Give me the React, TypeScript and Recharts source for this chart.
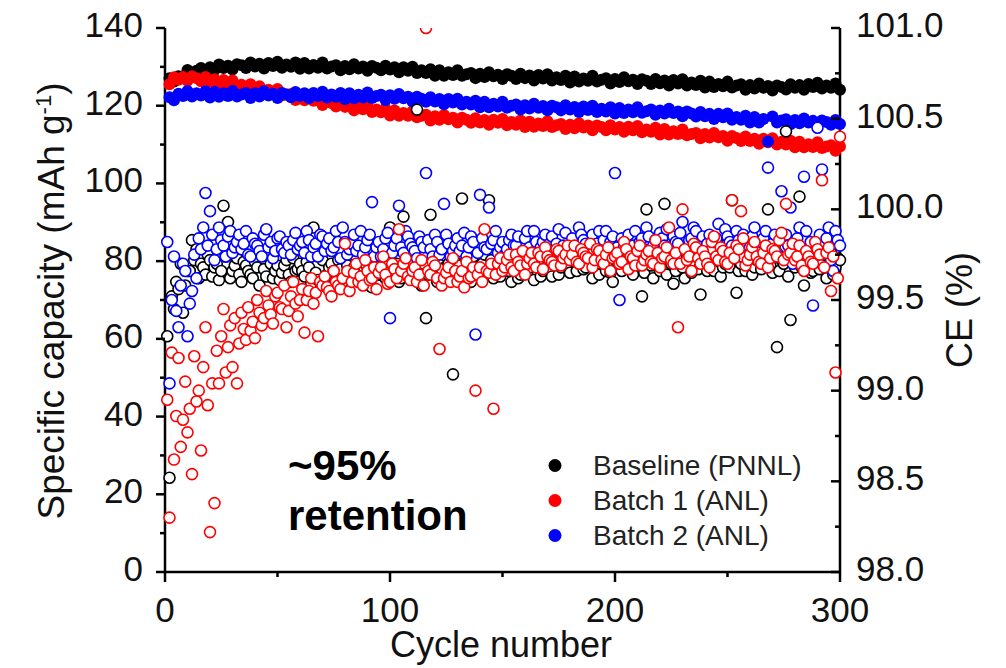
import * as React from "react";
import { ScatterChart, Scatter, XAxis, YAxis, Legend, Customized } from "recharts";

const FONT = "'Liberation Sans', Arial, sans-serif";

// cycle numbers: capacity is sampled every 2nd cycle, CE on every cycle
const capCycles = Array.from({ length: 150 }, (_, i) => 2 + 2 * i);
const ceCycles = Array.from({ length: 300 }, (_, i) => 1 + i);

const xTicks = [0, 50, 100, 150, 200, 250, 300];
const capTicks = [0, 10, 20, 30, 40, 50, 60, 70, 80, 90, 100, 110, 120, 130, 140];
const ceTicks = [98, 98.25, 98.5, 98.75, 99, 99.25, 99.5, 99.75, 100, 100.25, 100.5, 100.75, 101];

// specific capacity, mAh/g (cycles 2, 4, ... 300)
const baselineCap = [
  127.1, 126.2, 127.6, 127.5, 129.2, 128.2, 129.0, 129.7, 128.6, 129.9,
  129.2, 130.6, 129.7, 130.3, 129.3, 130.7, 130.4, 129.7, 131.1, 130.1,
  130.8, 129.6, 131.0, 130.2, 131.3, 129.8, 130.6, 130.0, 131.1, 129.5,
  131.0, 129.6, 130.5, 129.8, 131.1, 129.6, 130.1, 130.4, 129.1, 130.2,
  129.4, 130.7, 129.6, 130.1, 129.0, 130.2, 129.8, 129.1, 130.3, 129.3,
  129.9, 128.6, 129.9, 129.0, 130.0, 128.4, 129.1, 128.4, 129.4, 127.7,
  129.1, 127.7, 128.6, 127.9, 129.1, 127.7, 128.1, 128.4, 127.1, 128.2,
  127.4, 128.6, 127.6, 128.0, 126.9, 128.1, 127.7, 126.9, 128.2, 127.1,
  127.8, 126.5, 127.9, 127.0, 128.1, 126.5, 127.3, 126.6, 127.7, 126.0,
  127.5, 126.2, 127.0, 126.4, 127.7, 126.2, 126.7, 127.1, 125.7, 126.9,
  126.1, 127.3, 126.3, 126.7, 125.6, 126.8, 126.4, 125.6, 126.9, 125.8,
  126.5, 125.2, 126.6, 125.7, 126.8, 125.2, 126.0, 125.3, 126.4, 124.7,
  126.2, 124.8, 125.6, 125.0, 126.2, 124.7, 125.2, 125.5, 124.1, 125.3,
  124.4, 125.7, 124.6, 125.1, 123.9, 125.2, 124.8, 124.2, 125.5, 124.6,
  125.3, 124.1, 125.6, 124.8, 125.9, 124.4, 125.2, 124.6, 125.7, 124.1,
];
const batch1Cap = [
  125.5, 127.3, 126.7, 127.4, 126.4, 127.6, 127.1, 126.3, 127.4, 126.3,
  126.8, 125.4, 126.6, 125.6, 126.5, 124.8, 125.4, 124.6, 125.5, 123.7,
  125.0, 123.4, 124.1, 123.2, 124.3, 122.6, 122.9, 123.0, 121.5, 122.4,
  121.4, 122.5, 121.3, 121.5, 120.2, 121.3, 120.7, 119.8, 120.9, 119.7,
  120.2, 118.8, 120.1, 119.1, 120.0, 118.4, 119.0, 118.3, 119.2, 117.5,
  118.8, 117.4, 118.1, 117.4, 118.6, 117.0, 117.4, 117.7, 116.2, 117.3,
  116.4, 117.6, 116.5, 116.9, 115.7, 116.9, 116.4, 115.6, 116.8, 115.7,
  116.3, 115.1, 116.4, 115.6, 116.6, 115.0, 115.8, 115.1, 116.2, 114.5,
  115.9, 114.6, 115.4, 114.8, 116.0, 114.5, 115.0, 115.3, 114.0, 115.1,
  114.2, 115.5, 114.4, 114.9, 113.7, 114.9, 114.5, 113.7, 115.0, 113.9,
  114.5, 113.3, 114.6, 113.7, 114.8, 113.2, 113.9, 113.3, 114.3, 112.6,
  114.0, 112.6, 113.4, 112.7, 113.9, 112.4, 112.7, 113.0, 111.6, 112.7,
  111.8, 113.0, 111.9, 112.2, 111.0, 112.2, 111.7, 110.9, 112.1, 110.9,
  111.5, 110.2, 111.5, 110.6, 111.6, 110.0, 110.7, 110.0, 111.0, 109.3,
  110.7, 109.3, 110.1, 109.4, 110.6, 109.1, 109.5, 109.8, 108.4, 109.5,
];
const batch2Cap = [
  122.2, 121.4, 123.1, 122.5, 123.8, 122.4, 123.2, 122.6, 123.7, 122.1,
  123.6, 122.3, 123.2, 122.5, 123.8, 122.4, 122.9, 123.3, 122.0, 123.2,
  122.4, 123.7, 122.6, 123.1, 122.0, 123.3, 122.9, 122.2, 123.5, 122.5,
  123.2, 122.0, 123.3, 122.5, 123.6, 122.1, 122.9, 122.3, 123.3, 121.7,
  123.2, 121.9, 122.8, 122.1, 123.4, 122.0, 122.5, 122.8, 121.5, 122.7,
  121.8, 123.0, 121.9, 122.3, 121.1, 122.3, 121.8, 121.0, 122.2, 121.1,
  121.7, 120.4, 121.7, 120.8, 121.8, 120.3, 121.0, 120.3, 121.3, 119.6,
  121.0, 119.6, 120.5, 119.8, 121.0, 119.5, 120.0, 120.3, 119.0, 120.1,
  119.3, 120.5, 119.5, 119.9, 118.8, 120.0, 119.6, 118.8, 120.1, 119.0,
  119.7, 118.4, 119.8, 118.9, 120.0, 118.4, 119.2, 118.5, 119.6, 118.0,
  119.4, 118.1, 119.0, 118.3, 119.6, 118.2, 118.6, 119.0, 117.7, 118.8,
  118.0, 119.2, 118.1, 118.5, 117.3, 118.5, 118.0, 117.2, 118.4, 117.3,
  117.9, 116.6, 117.9, 117.0, 118.0, 116.4, 117.1, 116.4, 117.4, 115.7,
  117.1, 115.7, 116.6, 110.8, 117.2, 115.7, 116.2, 116.5, 115.2, 116.3,
  115.5, 116.7, 115.7, 116.1, 115.0, 116.2, 115.8, 115.1, 116.3, 115.3,
];

// coulombic efficiency, % (cycles 1 ... 300)
const baselineCE = [
  99.30, 98.52, 99.52, 99.45, 99.60, 99.56, 99.70, 99.43, 99.58, 99.66,
  99.66, 99.83, 99.72, 99.78, 99.62, 99.70, 99.68, 99.64, 99.75, 99.72,
  99.63, 99.68, 99.70, 99.61, 99.66, 100.02, 99.74, 99.93, 99.62, 99.66,
  99.69, 99.73, 99.64, 99.60, 99.71, 99.69, 99.66, 99.64, 99.62, 99.71,
  99.68, 99.58, 99.75, 99.67, 99.63, 99.74, 99.70, 99.62, 99.66, 99.69,
  99.61, 99.65, 99.69, 99.72, 99.64, 99.60, 99.73, 99.66, 99.67, 99.70,
  99.66, 99.63, 99.71, 99.68, 99.59, 99.90, 99.65, 99.61, 99.74, 99.72,
  99.62, 99.64, 99.68, 99.70, 99.66, 99.58, 99.72, 99.67, 99.60, 99.73,
  99.69, 99.62, 99.65, 99.68, 99.74, 99.60, 99.63, 99.71, 99.70, 99.65,
  99.58, 99.57, 99.72, 99.69, 99.64, 99.74, 99.67, 99.62, 99.71, 99.90,
  99.64, 99.66, 99.70, 99.60, 99.62, 99.96, 99.68, 99.70, 99.75, 99.63,
  99.66, 100.55, 99.61, 99.58, 99.70, 99.40, 99.64, 99.97, 99.72, 99.68,
  99.60, 99.73, 99.67, 99.62, 99.74, 99.70, 99.65, 99.09, 99.71, 99.66,
  99.69, 100.06, 99.63, 99.72, 99.67, 99.60, 99.74, 99.68, 99.66, 99.64,
  99.70, 99.75, 99.64, 100.05, 99.72, 99.62, 99.68, 99.70, 99.63, 99.66,
  99.71, 99.73, 99.66, 99.60, 99.76, 99.69, 99.62, 99.64, 99.70, 99.75,
  99.65, 99.68, 99.72, 99.61, 99.69, 99.72, 99.63, 99.66, 99.74, 99.78,
  99.67, 99.63, 99.75, 99.70, 99.64, 99.68, 99.71, 99.74, 99.69, 99.65,
  99.76, 99.71, 99.66, 99.80, 99.72, 99.67, 99.68, 99.73, 99.75, 99.62,
  99.69, 99.70, 99.64, 99.76, 99.73, 99.66, 99.70, 99.65, 99.60, 99.72,
  99.74, 99.68, 99.66, 99.78, 99.71, 99.70, 99.68, 99.64, 99.76, 99.74,
  99.70, 99.52, 99.65, 100.00, 99.73, 99.69, 99.62, 99.75, 99.71, 99.66,
  99.77, 100.03, 99.64, 99.71, 99.70, 99.59, 99.66, 99.77, 99.74, 99.68,
  99.62, 99.73, 99.79, 99.65, 99.70, 99.80, 99.67, 99.53, 99.72, 99.70,
  99.66, 99.76, 99.71, 99.66, 99.75, 99.72, 99.63, 99.68, 99.70, 99.82,
  99.68, 100.05, 99.74, 99.54, 99.66, 99.70, 99.79, 99.66, 99.71, 99.74,
  99.64, 99.68, 99.72, 99.78, 99.67, 99.71, 99.75, 100.00, 99.69, 99.65,
  99.80, 99.24, 99.66, 99.72, 99.70, 100.43, 99.63, 99.39, 99.74, 99.68,
  99.71, 100.07, 99.68, 99.58, 99.76, 99.73, 99.65, 99.66, 99.72, 99.78,
  99.67, 99.70, 99.75, 99.62, 99.69, 99.76, 99.64, 99.68, 99.73, 99.72,
];
const batch1CE = [
  98.95, 98.30, 99.21, 98.62, 98.86, 99.18, 98.69, 98.84, 99.05, 98.77,
  98.90, 98.54, 99.19, 98.94, 99.00, 98.67, 99.13, 99.35, 98.92, 98.22,
  99.04, 98.38, 99.22, 99.04, 99.30, 99.45, 99.10, 99.24, 99.36, 99.13,
  99.40, 99.04, 99.26, 99.43, 99.34, 99.28, 99.46, 99.33, 99.38, 99.29,
  99.50, 99.43, 99.36, 99.40, 99.55, 99.47, 99.42, 99.37, 99.52, 99.54,
  99.46, 99.45, 99.58, 99.35, 99.44, 99.52, 99.60, 99.48, 99.41, 99.50,
  99.56, 99.32, 99.50, 99.55, 99.62, 99.48, 99.54, 99.30, 99.60, 99.58,
  99.63, 99.57, 99.55, 99.52, 99.66, 99.60, 99.58, 99.56, 99.62, 99.81,
  99.66, 99.55, 99.60, 99.65, 99.70, 99.60, 99.63, 99.58, 99.72, 99.66,
  99.61, 99.62, 99.68, 99.56, 99.65, 99.68, 99.74, 99.64, 99.59, 99.60,
  99.70, 99.67, 99.62, 99.89, 99.66, 99.70, 99.73, 99.63, 99.61, 99.66,
  99.68, 99.60, 99.64, 99.72, 99.58, 101.00, 99.66, 99.64, 99.71, 99.69,
  99.62, 99.23, 99.58, 99.62, 99.65, 99.68, 99.60, 99.73, 99.66, 99.60,
  99.63, 99.66, 99.57, 99.71, 99.62, 99.63, 99.68, 99.00, 99.64, 99.68,
  99.60, 99.89, 99.66, 99.65, 99.70, 98.90, 99.64, 99.70, 99.73, 99.66,
  99.68, 99.72, 99.75, 99.68, 99.66, 99.75, 99.71, 99.69, 99.77, 99.64,
  99.70, 99.73, 99.76, 99.70, 99.68, 99.76, 99.74, 99.67, 99.79, 99.74,
  99.72, 99.71, 99.69, 99.78, 99.77, 99.69, 99.73, 99.75, 99.80, 99.72,
  99.75, 99.80, 99.71, 99.70, 99.78, 99.76, 99.74, 99.73, 99.81, 99.68,
  99.72, 99.78, 99.77, 99.72, 99.70, 99.75, 99.79, 99.66, 99.73, 99.74,
  99.76, 99.70, 99.71, 99.82, 99.78, 99.67, 99.74, 99.73, 99.69, 99.77,
  99.80, 99.69, 99.72, 99.75, 99.77, 99.71, 99.70, 99.83, 99.76, 99.68,
  99.73, 99.74, 99.79, 99.90, 99.72, 99.70, 99.76, 99.35, 99.70, 100.00,
  99.78, 99.72, 99.74, 99.66, 99.81, 99.79, 99.73, 99.70, 99.77, 99.74,
  99.70, 99.68, 99.82, 99.85, 99.74, 99.72, 99.79, 99.77, 99.71, 99.70,
  99.76, 100.05, 99.73, 99.80, 99.78, 99.99, 99.84, 99.69, 99.72, 99.75,
  99.79, 99.82, 99.74, 99.71, 99.70, 99.76, 99.80, 99.68, 99.73, 99.78,
  99.77, 99.74, 99.83, 99.87, 99.72, 100.03, 99.75, 99.76, 99.81, 99.72,
  99.74, 99.80, 99.69, 99.66, 99.77, 99.74, 99.71, 99.70, 99.82, 99.78,
  99.75, 100.16, 99.68, 99.76, 99.79, 99.55, 99.74, 99.10, 99.62, 100.40,
];
const batch2CE = [
  99.82, 99.04, 99.50, 99.74, 99.44, 99.35, 99.58, 99.70, 99.66, 99.30,
  99.48, 99.55, 99.75, 99.62, 99.84, 99.78, 99.90, 100.09, 99.80, 99.99,
  99.86, 99.72, 99.78, 99.90, 99.83, 99.80, 99.74, 99.85, 99.88, 99.76,
  99.79, 99.82, 99.86, 99.78, 99.81, 99.88, 99.75, 99.74, 99.84, 99.81,
  99.80, 99.77, 99.74, 99.86, 99.89, 99.79, 99.82, 99.73, 99.77, 99.84,
  99.85, 99.78, 99.76, 99.82, 99.80, 99.75, 99.83, 99.87, 99.78, 99.80,
  99.82, 99.76, 99.88, 99.83, 99.74, 99.79, 99.81, 99.74, 99.86, 99.85,
  99.77, 99.81, 99.84, 99.77, 99.79, 99.88, 99.82, 99.73, 99.90, 99.82,
  99.75, 99.78, 99.81, 99.86, 99.77, 99.80, 99.88, 99.75, 99.79, 99.83,
  99.86, 100.04, 99.74, 99.79, 99.82, 99.74, 99.78, 99.84, 99.87, 99.40,
  99.76, 99.80, 99.84, 100.02, 99.79, 99.76, 99.88, 99.85, 99.81, 99.79,
  99.77, 99.73, 99.85, 99.82, 99.79, 100.20, 99.83, 99.78, 99.74, 99.86,
  99.82, 99.75, 99.78, 100.03, 99.86, 99.81, 99.74, 99.77, 99.80, 99.84,
  99.77, 99.80, 99.87, 99.74, 99.79, 99.85, 99.82, 99.31, 99.76, 100.08,
  99.84, 99.79, 99.78, 100.01, 99.81, 99.83, 99.88, 99.76, 99.79, 99.82,
  99.75, 99.78, 99.83, 99.86, 99.80, 99.80, 99.85, 99.74, 99.77, 99.84,
  99.88, 99.79, 99.76, 99.88, 99.82, 99.76, 99.79, 99.82, 99.86, 99.78,
  99.81, 99.85, 99.78, 99.81, 99.89, 99.75, 99.80, 99.87, 99.76, 99.80,
  99.84, 99.77, 99.79, 99.90, 99.86, 99.83, 99.81, 99.78, 99.75, 99.86,
  99.80, 99.81, 99.88, 99.76, 99.83, 99.88, 99.77, 99.82, 99.85, 100.20,
  99.79, 99.50, 99.84, 99.79, 99.81, 99.86, 99.77, 99.80, 99.88, 99.76,
  99.82, 99.84, 99.78, 99.90, 99.85, 99.78, 99.80, 99.83, 99.76, 99.87,
  99.84, 99.80, 99.89, 99.75, 99.79, 99.85, 99.82, 99.81, 99.87, 99.93,
  99.77, 99.78, 99.83, 99.84, 99.90, 99.88, 99.79, 99.80, 99.85, 99.76,
  99.81, 99.86, 99.78, 99.82, 99.84, 99.92, 99.76, 99.78, 99.89, 99.85,
  99.82, 99.80, 99.77, 99.88, 99.83, 99.74, 99.86, 99.83, 99.80, 99.79,
  99.85, 99.90, 99.78, 99.77, 99.82, 99.84, 99.88, 100.23, 99.79, 99.81,
  99.86, 99.76, 99.74, 100.10, 99.83, 99.86, 99.80, 100.01, 99.70, 99.80,
  99.84, 99.90, 99.78, 100.18, 99.88, 99.78, 99.82, 99.47, 99.76, 100.45,
  99.86, 100.22, 99.80, 99.84, 99.90, 99.72, 99.66, 99.88, 99.83, 99.80,
];

const pairs = (xs: number[], ys: number[]) => ys.map((y, i) => ({ x: xs[i], y }));

const filledDot = (color: string) => (p: any) => (
  <circle cx={p.cx} cy={p.cy} r={6} fill={color} />
);
const openDot = (color: string) => (p: any) => (
  <circle cx={p.cx} cy={p.cy} r={5.5} fill="#fff" stroke={color} strokeWidth={1.6} />
);

const AXIS = { stroke: "#000", strokeWidth: 2.5 };
const LABEL = { fontFamily: FONT, fill: "#111" };

// tick marks are drawn by hand so majors and minors can have different lengths
const LeftTick = (p: any) => {
  const v = p.payload.value;
  const major = v % 20 === 0;
  return (
    <g>
      <line x1={p.x - (major ? 9 : 5)} x2={p.x} y1={p.y} y2={p.y} {...AXIS} />
      {major && (
        <text x={p.x - 22} y={p.y + 9} textAnchor="end" fontSize={35} {...LABEL}>
          {v}
        </text>
      )}
    </g>
  );
};

const RightTick = (p: any) => {
  const v = p.payload.value;
  const major = Math.abs(v * 2 - Math.round(v * 2)) < 1e-6;
  return (
    <g>
      <line x1={p.x - (major ? 9 : 5)} x2={p.x} y1={p.y} y2={p.y} {...AXIS} />
      {major && (
        <text x={p.x + 16} y={p.y + 9} textAnchor="start" fontSize={35} {...LABEL}>
          {v.toFixed(1)}
        </text>
      )}
    </g>
  );
};

const BottomTick = (p: any) => {
  const v = p.payload.value;
  const major = v % 100 === 0;
  return (
    <g>
      <line x1={p.x} x2={p.x} y1={p.y} y2={p.y + (major ? 10 : 5)} {...AXIS} />
      {major && (
        <text x={p.x} y={p.y + 50} textAnchor="middle" fontSize={35} {...LABEL}>
          {v}
        </text>
      )}
    </g>
  );
};

const TopTick = (p: any) => {
  const major = p.payload.value % 100 === 0;
  return <line x1={p.x} x2={p.x} y1={p.y} y2={p.y + (major ? 9 : 5)} {...AXIS} />;
};

const Titles = () => (
  <g fontFamily={FONT} fill="#111">
    <text x={501} y={657} textAnchor="middle" fontSize={36}>
      Cycle number
    </text>
    <text x={64} y={301} textAnchor="middle" fontSize={37} transform="rotate(-90 64 301)">
      Specific capacity (mAh g
      <tspan dy={-13} fontSize={22}>
        -1
      </tspan>
      <tspan dy={13}>)</tspan>
    </text>
    <text x={972} y={310} textAnchor="middle" fontSize={36} transform="rotate(-90 972 310)">
      CE (%)
    </text>
    <text x={288} y={480} fontSize={42} fontWeight="bold" fill="#000">
      ~95%
    </text>
    <text x={288} y={530} fontSize={42} fontWeight="bold" fill="#000">
      retention
    </text>
  </g>
);

const LegendBox = ({ payload }: any) => (
  <div style={{ fontFamily: FONT, fontSize: 28, color: "#222", lineHeight: "35px" }}>
    {(payload ?? [])
      .filter((item: any) => item.type !== "none" && item.value)
      .map((item: any) => (
        <div key={item.value} style={{ display: "flex", alignItems: "center", height: 35 }}>
          <svg width={53} height={35}>
            <circle cx={15} cy={17.5} r={6.5} fill={item.color} />
          </svg>
          <span>{item.value}</span>
        </div>
      ))}
  </div>
);

export default function App() {
  return (
    <div style={{ position: "absolute", left: 0, top: 0, background: "#fff" }}>
      <ScatterChart width={1006} height={668} margin={{ top: 28, right: 0, bottom: 0, left: 0 }}>
        <XAxis
          xAxisId="bottom"
          dataKey="x"
          type="number"
          domain={[0, 300]}
          ticks={xTicks}
          interval={0}
          height={96}
          tickSize={0}
          tickMargin={0}
          tickLine={false}
          axisLine={AXIS}
          tick={BottomTick}
        />
        <XAxis
          xAxisId="top"
          orientation="top"
          type="number"
          domain={[0, 300]}
          ticks={xTicks}
          interval={0}
          height={0}
          tickSize={0}
          tickMargin={0}
          tickLine={false}
          axisLine={AXIS}
          tick={TopTick}
        />
        <YAxis
          yAxisId="cap"
          dataKey="y"
          type="number"
          domain={[0, 140]}
          ticks={capTicks}
          interval={0}
          width={165}
          tickSize={0}
          tickMargin={0}
          tickLine={false}
          axisLine={AXIS}
          tick={LeftTick}
        />
        <YAxis
          yAxisId="ce"
          orientation="right"
          dataKey="y"
          type="number"
          domain={[98, 101]}
          allowDataOverflow
          ticks={ceTicks}
          interval={0}
          width={166}
          tickSize={0}
          tickMargin={0}
          tickLine={false}
          axisLine={AXIS}
          tick={RightTick}
        />

        <Scatter
          name="Baseline (PNNL)"
          xAxisId="bottom"
          yAxisId="cap"
          data={pairs(capCycles, baselineCap)}
          fill="#000"
          shape={filledDot("#000")}
          isAnimationActive={false}
        />
        <Scatter
          name="Batch 1 (ANL)"
          xAxisId="bottom"
          yAxisId="cap"
          data={pairs(capCycles, batch1Cap)}
          fill="#ff0000"
          shape={filledDot("#ff0000")}
          isAnimationActive={false}
        />
        <Scatter
          name="Batch 2 (ANL)"
          xAxisId="bottom"
          yAxisId="cap"
          data={pairs(capCycles, batch2Cap)}
          fill="#0000ff"
          shape={filledDot("#0000ff")}
          isAnimationActive={false}
        />

        <Scatter
          xAxisId="bottom"
          yAxisId="ce"
          data={pairs(ceCycles, baselineCE)}
          legendType="none"
          shape={openDot("#000")}
          isAnimationActive={false}
        />
        <Scatter
          xAxisId="bottom"
          yAxisId="ce"
          data={pairs(ceCycles, batch2CE)}
          legendType="none"
          shape={openDot("#0000ff")}
          isAnimationActive={false}
        />
        <Scatter
          xAxisId="bottom"
          yAxisId="ce"
          data={pairs(ceCycles, batch1CE)}
          legendType="none"
          shape={openDot("#ff0000")}
          isAnimationActive={false}
        />

        <Customized component={Titles} />
        <Legend
          layout="vertical"
          align="center"
          verticalAlign="middle"
          wrapperStyle={{ left: 540, top: 448, width: "auto" }}
          content={LegendBox}
        />
      </ScatterChart>
    </div>
  );
}
